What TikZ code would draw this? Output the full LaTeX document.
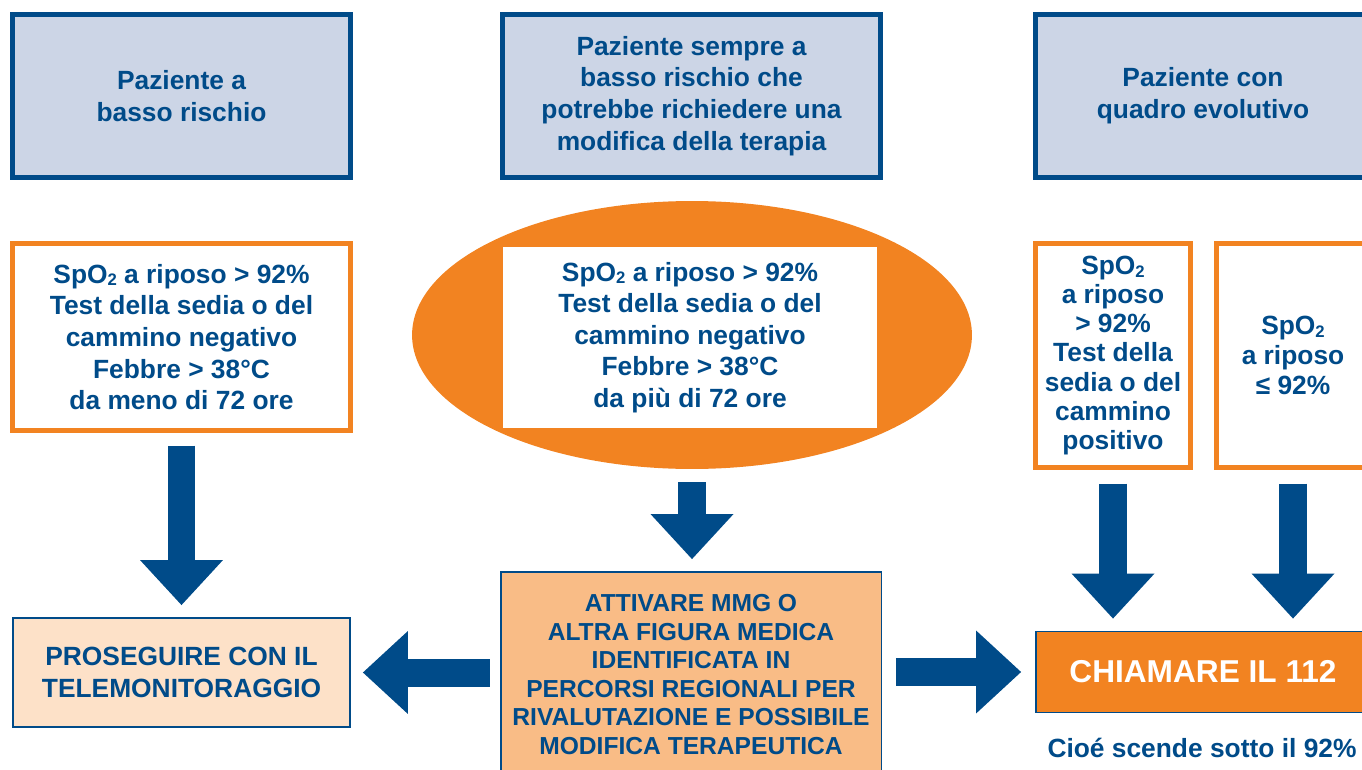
\documentclass[tikz,border=0pt]{standalone}
\usepackage{fontspec}
\setmainfont{Liberation Sans}
\usetikzlibrary{arrows.meta,shapes.geometric}
\definecolor{mblue}{RGB}{0,75,137}
\definecolor{morange}{RGB}{242,131,33}
\definecolor{mlilac}{RGB}{204,213,230}
\definecolor{mpeach}{RGB}{253,225,200}
\definecolor{mapricot}{RGB}{249,188,134}
\newcommand\spo{SpO\raisebox{-0.2ex}{\fontsize{9.5}{9.5}\selectfont 2}}

\begin{document}
\begin{tikzpicture}[x=0.02cm, y=-0.02cm,
  every node/.style={align=center, text=mblue, font=\fontsize{15}{18}\selectfont\bfseries},
  head/.style={draw=mblue, line width=2.8pt, fill=mlilac, minimum height=3.26cm},
  check/.style={draw=morange, line width=2.5pt, fill=white},
  outcome/.style={draw=mblue, line width=1.1pt},
  bigarrow/.style={draw=mblue, line width=0.56cm, -{Triangle[width=1.66cm, length=0.9cm, line width=0pt]}, shorten <=0.26cm, shorten >=0.24cm}]
\path[use as bounding box, clip] (0,0) rectangle (1362,770);

\node [head, minimum width=6.76cm] (P1) at (181.5,96) {Paziente a\\basso rischio};
\node [head, minimum width=7.56cm] (P2) at (691.5,96) {Paziente sempre a\\basso rischio che\\potrebbe richiedere una\\modifica della terapia};
\node [head, minimum width=6.7cm] (P3) at (1203,96) {Paziente con\\quadro evolutivo};

\node [check, minimum width=6.76cm, minimum height=3.74cm] (S1) at (181.5,337) {\spo{} a riposo > 92\%\\Test della sedia o del\\cammino negativo\\Febbre > 38°C\\da meno di 72 ore};
\node [ellipse, fill=morange, minimum width=11.2cm, minimum height=5.36cm] (E2) at (692,335) {};
\node [fill=white, minimum width=7.48cm, minimum height=3.62cm] (S2) at (690,337.5) {\spo{} a riposo > 92\%\\Test della sedia o del\\cammino negativo\\Febbre > 38°C\\da più di 72 ore};
\node [check, minimum width=3.1cm, minimum height=4.48cm, font=\fontsize{15}{16.6}\selectfont\bfseries] (S3) at (1113,355.5) {\spo\\a riposo\\> 92\%\\Test della\\sedia o del\\cammino\\positivo};
\node [check, minimum width=3.06cm, minimum height=4.48cm, font=\fontsize{15}{17}\selectfont\bfseries] (S4) at (1293,355.5) {\spo\\a riposo\\≤ 92\%};

\node [outcome, fill=mpeach, minimum width=6.74cm, minimum height=2.18cm] (O1) at (181.5,672.5) {PROSEGUIRE CON IL\\TELEMONITORAGGIO};
\node [outcome, fill=mapricot, minimum width=7.62cm, minimum height=4.1cm, font=\fontsize{14}{16.3}\selectfont\bfseries] (O2) at (691,674.5) {ATTIVARE MMG O\\ALTRA FIGURA MEDICA\\IDENTIFICATA IN\\PERCORSI REGIONALI PER\\RIVALUTAZIONE E POSSIBILE\\MODIFICA TERAPEUTICA};
\node [outcome, fill=morange, text=white, minimum width=6.7cm, minimum height=1.62cm, font=\fontsize{18}{20}\selectfont\bfseries] (O3) at (1203,672) {CHIAMARE IL 112};
\node (N3) at (1202,748) {Cioé scende sotto il 92\%};

\draw [bigarrow] (S1) -- (O1);
\draw [bigarrow] (E2.south) -- (E2.south |- O2.north);
\draw [bigarrow, shorten <=0.28cm] (S3.south) -- (S3.south |- O3.north);
\draw [bigarrow, shorten <=0.28cm] (S4.south) -- (S4.south |- O3.north);
\draw [bigarrow, shorten <=0.2cm] (O2.west |- O1.east) -- (O1.east);
\draw [bigarrow, shorten <=0.27cm, shorten >=0.27cm] (O2.east |- O3.west) -- (O3.west);
\end{tikzpicture}
\end{document}
